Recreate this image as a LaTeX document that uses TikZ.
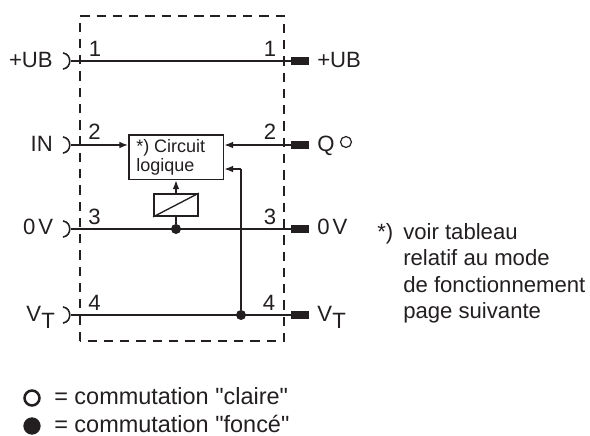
\documentclass[tikz,border=0pt]{standalone}
\usepackage{fontspec}
\setmainfont{Liberation Sans}
\newfontfamily\plainfam{Liberation Sans}
\usetikzlibrary{arrows.meta}
\definecolor{ink}{HTML}{231F20}
\newcommand{\qq}{{\plainfam\char34 }}
\tikzset{
  x=0.75pt,y=-0.75pt,
  every node/.style={text=ink,inner sep=0pt},
  wire/.style={draw=ink,line width=1.3pt},
  thin wire/.style={draw=ink,line width=1pt},
  arr/.style={-{Latex[length=6.5pt,width=5pt]}},
  frame/.style={draw=ink,line width=1.2pt,dash pattern=on 7pt off 5.2pt},
  blockbox/.style={draw=ink,line width=1.3pt,fill=white},
  lab/.style={font=\fontsize{16.6}{18}\selectfont,anchor=base},
  num/.style={font=\fontsize{16.6}{18}\selectfont,anchor=base},
  small/.style={font=\fontsize{13.5}{16}\selectfont,anchor=base west},
  note/.style={font=\fontsize{16.6}{18}\selectfont,anchor=base west},
  legend/.style={font=\fontsize{17.6}{20}\selectfont,anchor=base west},
  plug/.style={fill=ink,draw=none,minimum width=13.5pt,minimum height=5.8pt,anchor=west,shape=rectangle},
  dotn/.style={circle,fill=ink,draw=none,minimum size=7.5pt},
}
\begin{document}
\begin{tikzpicture}
\useasboundingbox (0,0) rectangle (590,436);
% frame
\draw[frame] (80,341) -- (80,16) -- (284,16) -- (284,341) -- cycle;
% connector points
\coordinate (l1) at (71,61);\coordinate (l2) at (71,145);\coordinate (l3) at (71,229);\coordinate (l4) at (71,315);
\node[plug] (r1) at (291,61) {};
\node[plug] (r2) at (291,145) {};
\node[plug] (r3) at (291,229) {};
\node[plug] (r4) at (291,315) {};
% sockets
\foreach \n in {l1,l2,l3,l4}
  \draw[draw=ink,line width=1.2pt] ([shift={(-8,-8)}]\n) .. controls ([shift={(1,-7)}]\n) and ([shift={(1,7)}]\n) .. ([shift={(-8,8)}]\n);
% block
\node[blockbox,minimum width=71pt,minimum height=33.5pt,anchor=north west] (logic) at (128,134) {};
\node[small] (t1) at (136,152) {*) Circuit};
\node[small] (t2) at (136,171) {logique};
\node[blockbox,minimum width=33pt,minimum height=16.5pt] (relay) at (176,205) {};
\draw[thin wire] (relay.south west) -- (relay.north east);
% junctions
\node[dotn] (j3) at (176,229) {};
\node[dotn] (j4) at (241,315) {};
% wires
\draw[wire] (l1) -- (r1.west);
\draw[wire] (l3) -- (r3.west);
\draw[wire] (l4) -- (r4.west);
\draw[thin wire,arr] (l2) -- (logic.west |- l2);
\draw[thin wire,arr] (r2.west) -- (logic.east |- r2);
\draw[wire] (j3) -- (relay.south);
\draw[thin wire,arr] (relay.north) -- (logic.south -| relay.north);
\coordinate (k) at (241,169);
\draw[wire] (j4) -- (k);
\draw[thin wire,arr] (k) -- (logic.east |- k);
% numbers
\node[num] (n1) at (95,56) {1};
\node[num] (n2) at (94.5,139) {2};
\node[num] (n3) at (94.5,224) {3};
\node[num] (n4) at (94.5,310) {4};
\node[num] (m1) at (270,56) {1};
\node[num] (m2) at (270,139) {2};
\node[num] (m3) at (270,224) {3};
\node[num] (m4) at (269,310) {4};
% labels
\node[lab,anchor=base east] (a1) at (53,67) {+UB};
\node[lab,anchor=base east] (a2) at (53,151) {IN};
\node[lab,anchor=base east] (a3) at (53.5,234) {0\hspace{2.3pt}V};
\node[lab,anchor=base west] (a4) at (26,321) {V};
\node[lab,anchor=base west] (a5) at (41,328) {T};
\node[lab,anchor=base west] (b1) at (317,67) {+UB};
\node[lab,anchor=base west] (b2) at (317,151) {Q};
\draw[draw=ink,line width=0.9pt] (346,142) circle (4.1pt);
\node[lab,anchor=base west] (b3) at (317,234) {0\hspace{2.3pt}V};
\node[lab,anchor=base west] (b4) at (317,321) {V};
\node[lab,anchor=base west] (b5) at (332,328) {T};
% note
\node[note] (c0) at (377,239) {*)};
\node[note] (c1) at (403,239) {voir tableau};
\node[note] (c2) at (403,265) {relatif au mode};
\node[note] (c3) at (403,292) {de fonctionnement};
\node[note] (c4) at (403,318) {page suivante};
% legend
\node[circle,draw=ink,line width=1.9pt,minimum size=11.2pt] (o1) at (32,398) {};
\node[circle,fill=ink,minimum size=13pt] (o2) at (32,426) {};
\node[legend] (d1) at (54,404) {= commutation \qq claire\qq};
\node[legend] (d2) at (54,432) {= commutation \qq foncé\qq};
\end{tikzpicture}
\end{document}
